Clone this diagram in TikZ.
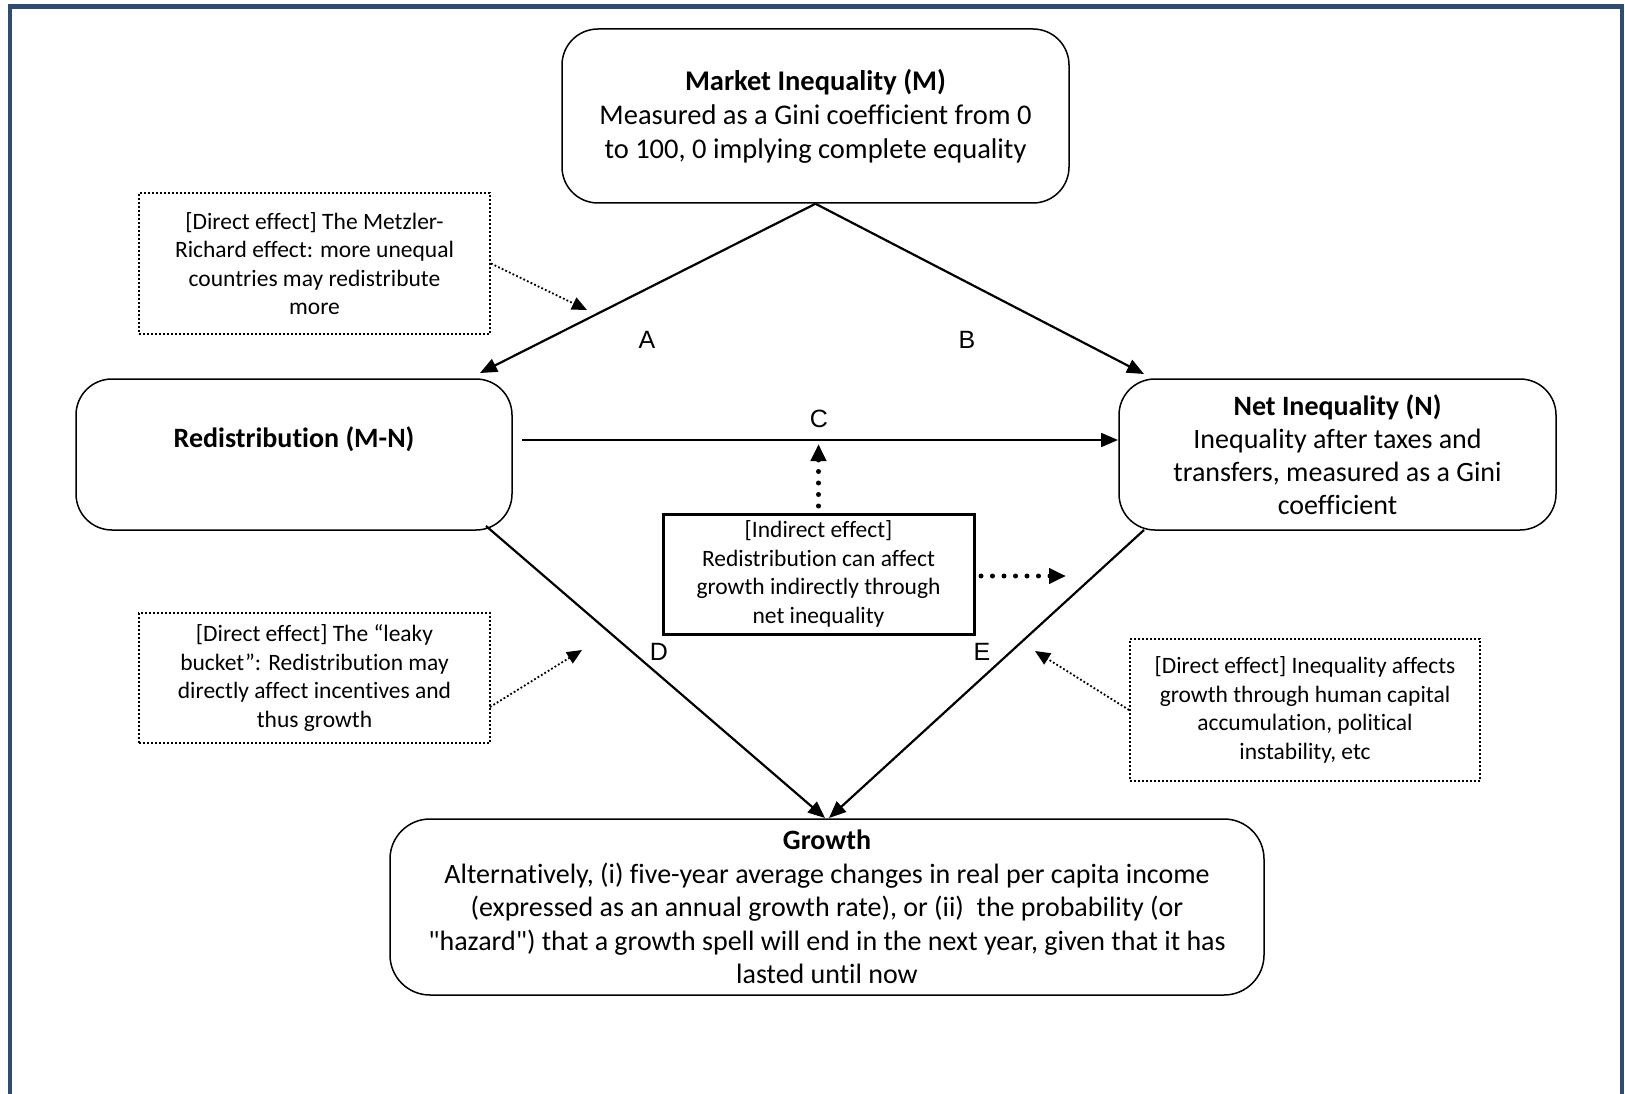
\documentclass[tikz,border=0pt]{standalone}
\usepackage{fontspec}
\setmainfont{Carlito}[Ligatures={NoCommon}]
\newfontfamily\arialfont{Liberation Sans}
\usetikzlibrary{arrows.meta}
\definecolor{framecol}{RGB}{47,75,110}
\begin{document}
\begin{tikzpicture}[x=1pt,y=-1pt,
  mainbox/.style={draw=black, line width=1.5pt, rounded corners=36pt, inner sep=0pt, align=center},
  callout/.style={draw=black, line width=1.9pt, dash pattern=on 1.9pt off 2.1pt, inner sep=0pt, align=center, font=\fontsize{23.5}{28.5}\selectfont},
  indbox/.style={draw=black, line width=3pt, inner sep=0pt, align=center, font=\fontsize{23.5}{28.7}\selectfont},
  mainarrow/.style={line width=2.2pt, -{Triangle[length=17pt,width=14pt]}},
  thickdot/.style={line width=5pt, line cap=round, dash pattern=on 0pt off 11.5pt, -{Triangle[length=17pt,width=15pt]}},
  thindot/.style={line width=1.8pt, dash pattern=on 1.8pt off 2.2pt, -{Triangle[length=15pt,width=13pt]}},
  letter/.style={font=\arialfont\fontsize{25}{30}\selectfont, inner sep=0pt}
]
\useasboundingbox (0,0) rectangle (1625,1094);
% frame
\draw[framecol, line width=4.5pt] (10,1100) -- (10,6.5) -- (1622,6.5) -- (1622,1100);

% main boxes
\node[mainbox, minimum width=507pt, minimum height=174pt, font=\fontsize{28.5}{34}\selectfont] (M) at (815.5,116)
  {\textbf{Market Inequality (M)}\\Measured as a Gini coefficient from 0\\to 100, 0 implying complete equality};
\node[mainbox, minimum width=436pt, minimum height=151pt, font=\fontsize{28}{33}\selectfont, text height=20pt, text depth=34pt] (R) at (294,454.5)
  {\textbf{Redistribution (M-N)}};
\node[mainbox, minimum width=437pt, minimum height=151pt, font=\fontsize{28}{33}\selectfont] (N) at (1337.5,454.5)
  {\textbf{Net Inequality (N)}\\Inequality after taxes and\\transfers, measured as a Gini\\coefficient};
\node[mainbox, rounded corners=40pt, minimum width=874pt, minimum height=176pt, font=\fontsize{28}{33.5}\selectfont] (G) at (827,907)
  {\textbf{Growth}\\Alternatively, (i) five-year average changes in real per capita income\\(expressed as an annual growth rate), or (ii)\ \ the probability (or\\\textquotedbl hazard\textquotedbl) that a growth spell will end in the next year, given that it has\\lasted until now};
\node[indbox, minimum width=311pt, minimum height=120pt] (I) at (818.5,574)
  {[Indirect effect]\\Redistribution can affect\\growth indirectly through\\net inequality};

% callouts
\node[callout, minimum width=351pt, minimum height=141pt] (Cm) at (314.5,263.5)
  {[Direct effect] The Metzler-\\Richard effect: more unequal\\countries may redistribute\\more};
\node[callout, minimum width=351pt, minimum height=130pt] (Cl) at (314.5,678)
  {[Direct effect] The “leaky\\bucket”: Redistribution may\\directly affect incentives and\\thus growth};
\node[callout, minimum width=350pt, minimum height=142pt] (Ci) at (1305,710)
  {[Direct effect] Inequality affects\\growth through human capital\\accumulation, political\\instability, etc};

% connector end points
\coordinate (aR) at (480,373);
\coordinate (aN) at (1144,374);
\coordinate (cS) at (522,440);
\coordinate (cE) at (1118,440);
\coordinate (dS) at (486,526);
\coordinate (dE) at (825,818);
\coordinate (eS) at (1144,530);
\coordinate (eE) at (829,818);
\coordinate (iU) at (818.5,444);
\coordinate (iUs) at (818.5,506);
\coordinate (iR) at (1066,576);
\coordinate (iRs) at (981,576);
\coordinate (mT) at (587,310);
\coordinate (lS) at (490,707);
\coordinate (lT) at (582,650);
\coordinate (qT) at (1035,651);

% main arrows
\draw[mainarrow] (M.south) -- (aR);
\draw[mainarrow] (M.south) -- (aN);
\draw[mainarrow] (cS) -- (cE);
\draw[mainarrow] (dS) -- (dE);
\draw[mainarrow] (eS) -- (eE);

% dotted arrows
\draw[thickdot] (iUs) -- (iU);
\draw[thickdot] (iRs) -- (iR);
\draw[thindot] (Cm.east) -- (mT);
\draw[thindot] (lS) -- (lT);
\draw[thindot] (Ci.west) -- (qT);

% letters
\node[letter] (LA) at (647,340) {A};
\node[letter] (LB) at (967,340) {B};
\node[letter] (LC) at (819,419) {C};
\node[letter] (LD) at (659,652) {D};
\node[letter] (LE) at (982,652) {E};
\end{tikzpicture}
\end{document}
